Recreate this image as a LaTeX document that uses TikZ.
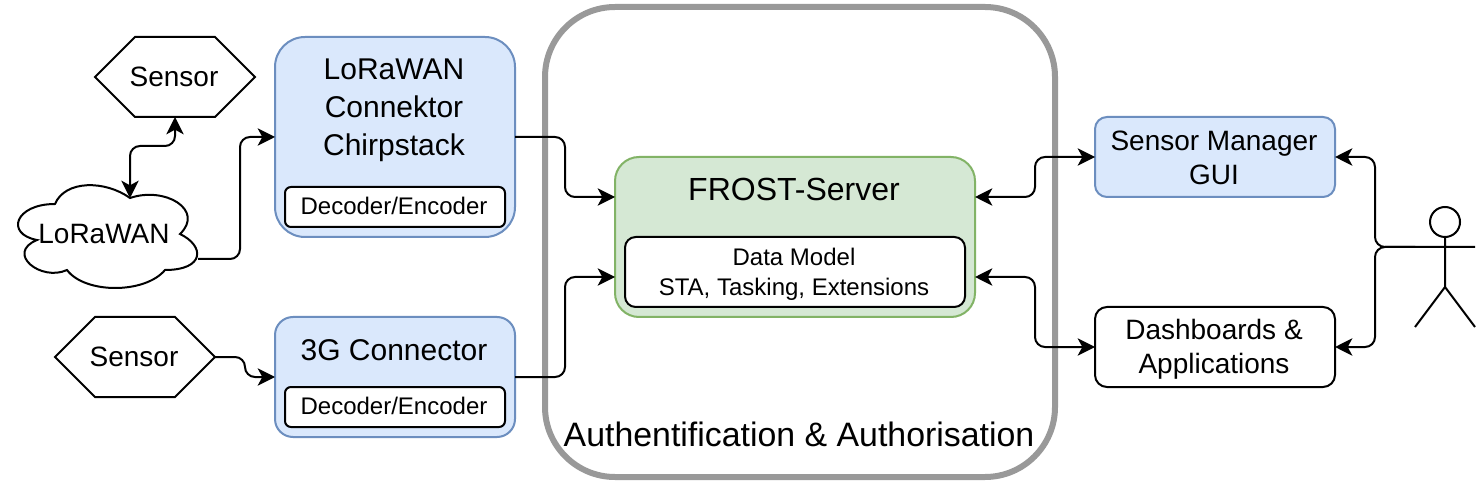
\documentclass[tikz,border=0pt]{standalone}
\usepackage{fontspec}
\setmainfont{Liberation Sans}
\usetikzlibrary{arrows.meta,calc}
\def\u{0.75pt}
\tikzset{
 x=0.75pt,y=-0.75pt,
 every node/.style={inner sep=0pt,outer sep=0pt,align=center,text=black},
 sized/.style 2 args={minimum width=#1*\u,minimum height=#2*\u},
 bluebox/.style={fill=bluefill,draw=bluedraw,line width=1.5pt},
 whitebox/.style={fill=white,draw=black,line width=1.5pt},
 greenbox/.style={fill=greenfill,draw=greendraw,line width=1.5pt},
 conn/.style={draw=black,line width=1.5pt,rounded corners=7.5pt,-{Stealth[length=13pt,width=13pt,inset=3.5pt]}},
 biconn/.style={conn,{Stealth[length=13pt,width=13pt,inset=3.5pt]}-{Stealth[length=13pt,width=13pt,inset=3.5pt]}},
 shapeline/.style={draw=black,line width=1.5pt,line join=miter},
 fa/.style={font=\fontsize{18pt}{22.5pt}\selectfont},
 fb/.style={font=\fontsize{21pt}{25.5pt}\selectfont},
 fc/.style={font=\fontsize{22.5pt}{28.5pt}\selectfont},
 fd/.style={font=\fontsize{24pt}{29pt}\selectfont},
 fe/.style={font=\fontsize{25.4pt}{30pt}\selectfont},
}
\definecolor{bluefill}{HTML}{DAE8FC}
\definecolor{bluedraw}{HTML}{6C8EBF}
\definecolor{greenfill}{HTML}{D5E8D4}
\definecolor{greendraw}{HTML}{82B366}
\definecolor{ringgray}{HTML}{999999}
\begin{document}
\begin{tikzpicture}
\useasboundingbox (0,0) rectangle (1480,484);
\fill[white] (0,0) rectangle (1480,484);
% ring
\node[sized={510}{470},draw=ringgray,line width=4.5pt,rounded corners=52.5pt] (auth) at (800,242) {};
\node[fe] (authlabel) at (799,434) {Authentification \& Authorisation};
% sensors
\node[sized={160}{80}] (s1) at (175,77) {};
\node[fb] (s1text) at (174,77) {Sensor};
\draw[shapeline] (s1.west) -- ($(s1.north west)+(40,0)$) -- ($(s1.north east)+(-40,0)$) -- (s1.east) -- ($(s1.south east)+(-40,0)$) -- ($(s1.south west)+(40,0)$) -- cycle;
\node[sized={160}{80}] (s2) at (135,357) {};
\node[fb] (s2text) at (134,357) {Sensor};
\draw[shapeline] (s2.west) -- ($(s2.north west)+(40,0)$) -- ($(s2.north east)+(-40,0)$) -- (s2.east) -- ($(s2.south east)+(-40,0)$) -- ($(s2.south west)+(40,0)$) -- cycle;
% cloud: 200 x 120 box at (5,174)
\node[sized={200}{120}] (cloud) at (105,234) {};
\draw[shapeline] (55,204) .. controls (15,204) and (5,234) .. (37,240)
 .. controls (5,253.2) and (41,282) .. (67,270)
 .. controls (85,294) and (145,294) .. (165,270)
 .. controls (205,270) and (205,246) .. (180,234)
 .. controls (205,210) and (165,186) .. (130,198)
 .. controls (105,180) and (65,180) .. (55,204) -- cycle;
\node[fb] (cloudlabel) at (104,234) {LoRaWAN};
\coordinate (cloudtop) at (130,198);
\coordinate (cloudright) at (198,259);
% boxes
\node[sized={240}{200},bluebox,rounded corners=22.5pt] (lora) at (395,137) {};
\node[fc] (loratext) at (394,110) {LoRaWAN\\Connektor\\Chirpstack};
\node[sized={240}{120},bluebox,rounded corners=13.5pt] (tg) at (395,377) {};
\node[fc] (tgtext) at (394,350) {3G Connector};
\node[sized={220}{40},whitebox,rounded corners=4.5pt] (dec1) at (395,207) {};
\node[fa] (dec1text) at (394,206) {Decoder/Encoder};
\node[sized={220}{40},whitebox,rounded corners=4.5pt] (dec2) at (395,407) {};
\node[fa] (dec2text) at (394,406) {Decoder/Encoder};
\node[sized={360}{160},greenbox,rounded corners=18pt] (frost) at (795,237) {};
\node[fd] (frosttext) at (794,189) {FROST-Server};
\node[sized={340}{70},whitebox,rounded corners=8pt] (model) at (795,272) {};
\node[fa] (modeltext) at (794,274) {Data Model\\STA, Tasking, Extensions};
\node[sized={240}{80},bluebox,rounded corners=9pt] (gui) at (1215,157) {};
\node[fb] (guitext) at (1214,158) {Sensor Manager\\GUI};
\node[sized={240}{80},whitebox,rounded corners=9pt] (dash) at (1215,347) {};
\node[fb] (dashtext) at (1214,349) {Dashboards \&\\Applications};
% actor
\node[circle,draw=black,line width=1.5pt,minimum size=30*\u] (head) at (1445,222) {};
\coordinate (hip) at (1445,287);
\coordinate (hands) at (1415,247);
\coordinate (handr) at (1475,247);
\draw[shapeline] (head.south) -- (hip) (hands) -- (handr) (hip) -- (1415,327) (hip) -- (1475,327);
% anchors
\coordinate (frostA) at ($(frost.east)+(0,-40)$);
\coordinate (frostB) at ($(frost.east)+(0,40)$);
\coordinate (frostC) at ($(frost.west)+(0,-40)$);
\coordinate (frostD) at ($(frost.west)+(0,40)$);
% connectors
\draw[biconn] (s1.south) -- ++(0,29) -| (cloudtop);
\draw[conn] (cloudright) -- ++(42,0) |- (lora.west);
\draw[conn] (s2.east) -- ++(30,0) |- (tg.west);
\draw[conn] (lora.east) -- ++(50,0) |- (frostC);
\draw[conn] (tg.east) -- ++(50,0) |- (frostD);
\draw[biconn] (frostA) -- ++(60,0) |- (gui.west);
\draw[biconn] (frostB) -- ++(60,0) |- (dash.west);
\draw[conn] (hands) -- ++(-40,0) |- (gui.east);
\draw[conn] (hands) -- ++(-40,0) |- (dash.east);
\end{tikzpicture}
\end{document}
